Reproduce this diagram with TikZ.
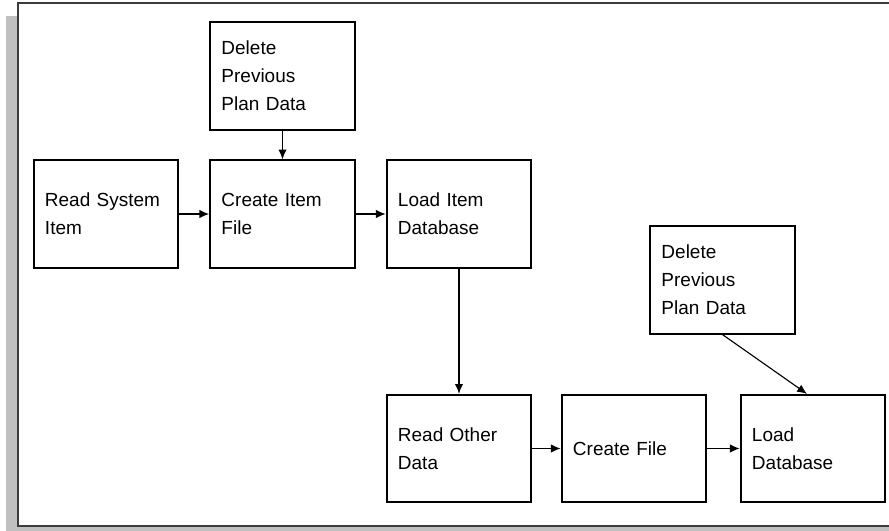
\documentclass[tikz,border=0pt]{standalone}
\usepackage{fontspec}
\setmainfont{Liberation Sans}
\usetikzlibrary{arrows.meta, positioning}
\definecolor{shadowgray}{RGB}{192, 192, 192}
\definecolor{framegray}{RGB}{60, 60, 60}

\tikzset{
  stepbox/.style={draw=black, line width=1.4pt, fill=white,
    minimum height=2.68cm, text width=3.05cm, inner xsep=0.28cm,
    align=left, font=\fontsize{13.5}{20}\selectfont},
  flow/.style={line width=1.1pt, -{Latex[length=7pt,width=6pt]}}
}

\begin{document}
\begin{tikzpicture}[x=0.025cm, y=-0.025cm]
  \useasboundingbox (0,0) rectangle (889,531);
  % frame with shadow
  \fill[shadowgray] (6,16) rectangle (900,540);
  \draw[framegray, line width=1.6pt, fill=white] (18,3) rectangle (900,526);

  % upper row
  \node[stepbox] (delitem) at (282.5,76) {Delete\\Previous\\Plan Data};
  \node[stepbox] (readsys) at (106,214) {Read System\\Item};
  \node[stepbox] (createitem) at (282.5,214) {Create Item\\File};
  \node[stepbox] (loaditem) at (459,214) {Load Item\\Database};

  % lower row
  \node[stepbox] (deldata) at (722.5,280) {Delete\\Previous\\Plan Data};
  \node[stepbox] (readother) at (459,448.5) {Read Other\\Data};
  \node[stepbox] (createfile) at (634,448.5) {Create File};
  \node[stepbox] (loaddb) at (813,448.5) {Load\\Database};

  % connectors
  \draw[flow] (delitem) -- (createitem);
  \draw[flow] (readsys) -- (createitem);
  \draw[flow] (createitem) -- (loaditem);
  \draw[flow] (loaditem) -- (readother);
  \draw[flow] (readother) -- (createfile);
  \draw[flow] (createfile) -- (loaddb);
  \draw[flow, line width=0.8pt] (deldata.south) -- ([xshift=-0.15cm]loaddb.north);
\end{tikzpicture}
\end{document}
